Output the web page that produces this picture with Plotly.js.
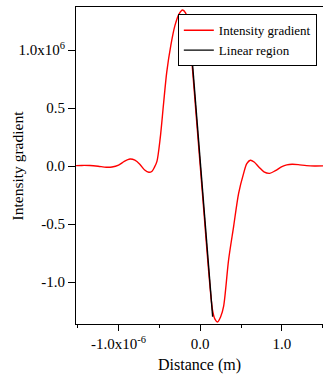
<!DOCTYPE html>
<html>
<head>
<meta charset="utf-8">
<script src="https://cdn.plot.ly/plotly-3.0.1.min.js"></script>
<style>html,body{margin:0;padding:0;background:#fff;}#chart{width:323px;height:374px;}</style>
</head>
<body>
<div id="chart"></div>
<script>
// Distance in units of 1e-6 m, gradient in units of 1e6
const distance = [-1.52, -1.45, -1.35, -1.25, -1.15, -1.08, -1.0, -0.93, -0.86, -0.80, -0.74, -0.68, -0.63, -0.59, -0.56, -0.53, -0.49, -0.45, -0.41, -0.36, -0.31, -0.26, -0.217, -0.18, -0.15, -0.10, -0.05, 0, 0.05, 0.10, 0.15, 0.18, 0.212, 0.25, 0.286, 0.347, 0.409, 0.47, 0.531, 0.57, 0.613, 0.66, 0.72, 0.78, 0.85, 0.92, 1.0, 1.06, 1.125, 1.2, 1.3, 1.4, 1.51];
const gradient = [0.003, 0.005, 0.004, -0.002, -0.010, -0.008, 0.008, 0.040, 0.060, 0.050, 0.015, -0.035, -0.054, -0.045, -0.010, 0.040, 0.24, 0.53, 0.81, 1.04, 1.21, 1.31, 1.345, 1.32, 1.24, 0.88, 0.44, 0, -0.44, -0.88, -1.24, -1.32, -1.345, -1.30, -1.21, -0.81, -0.52, -0.235, -0.063, 0.02, 0.05, 0.035, -0.01, -0.05, -0.063, -0.04, -0.005, 0.010, 0.015, 0.012, 0.003, 0.000, 0.001];
const linearX = [-0.14, 0.152];
const linearY = [1.28, -1.30];

const xTickVals = [-1, 0, 1];
const xTickText = ['-1.0x10<sup>-6</sup>', '0.0', '1.0'];
const xMinorVals = [-1.5, -0.5, 0.5, 1.5];
const yTickVals = [-1, -0.5, 0, 0.5, 1];
const yTickText = ['-1.0', '-0.5', '0.0', '0.5', '1.0x10<sup>6</sup>'];

const traces = [
  {x: distance, y: gradient, mode: 'lines', name: 'Intensity gradient',
   line: {color: '#ff0000', width: 1.4, shape: 'spline', smoothing: 0.8}},
  {x: linearX, y: linearY, mode: 'lines', name: 'Linear region',
   line: {color: '#000000', width: 1.4}}
];

const fam = '"Liberation Serif", "Times New Roman", serif';

const layout = {
  width: 323, height: 374,
  margin: {l: 76, r: 0, t: 7, b: 50},
  paper_bgcolor: '#fff', plot_bgcolor: '#fff',
  font: {family: fam, color: '#000', size: 15},
  showlegend: true,
  legend: {x: 0.975, y: 0.977, xanchor: 'right', yanchor: 'top',
           bordercolor: '#000', borderwidth: 1, bgcolor: '#fff',
           font: {family: fam, size: 13, color: '#000'},
           tracegroupgap: 0},
  xaxis: {range: [-1.521, 1.503], showgrid: false, zeroline: false,
          showline: true, linecolor: '#000', linewidth: 1, mirror: true,
          ticks: 'outside', ticklen: 6, tickcolor: '#000', tickwidth: 1,
          tickmode: 'array', tickvals: xTickVals, ticktext: xTickText,
          tickfont: {family: fam, size: 15, color: '#000'},
          minor: {tickmode: 'array', tickvals: xMinorVals, ticks: 'outside', ticklen: 3, tickcolor: '#000', showgrid: false},
          title: {text: 'Distance (m)', font: {family: fam, size: 16, color: '#000'}, standoff: 10}},
  yaxis: {range: [-1.362, 1.371], showgrid: false, zeroline: false,
          showline: true, linecolor: '#000', linewidth: 1, mirror: false,
          ticks: 'outside', ticklen: 7, tickcolor: '#000', tickwidth: 1,
          tickmode: 'array', tickvals: yTickVals, ticktext: yTickText,
          tickfont: {family: fam, size: 15, color: '#000'}},
  annotations: [{text: 'Intensity gradient', xref: 'paper', yref: 'paper',
                 x: -0.235, y: 0.5, textangle: -90, showarrow: false,
                 xanchor: 'center', yanchor: 'middle',
                 font: {family: fam, size: 15.5, color: '#000'}}]
};

Plotly.newPlot('chart', traces, layout, {displayModeBar: false, staticPlot: true});
</script>
</body>
</html>
